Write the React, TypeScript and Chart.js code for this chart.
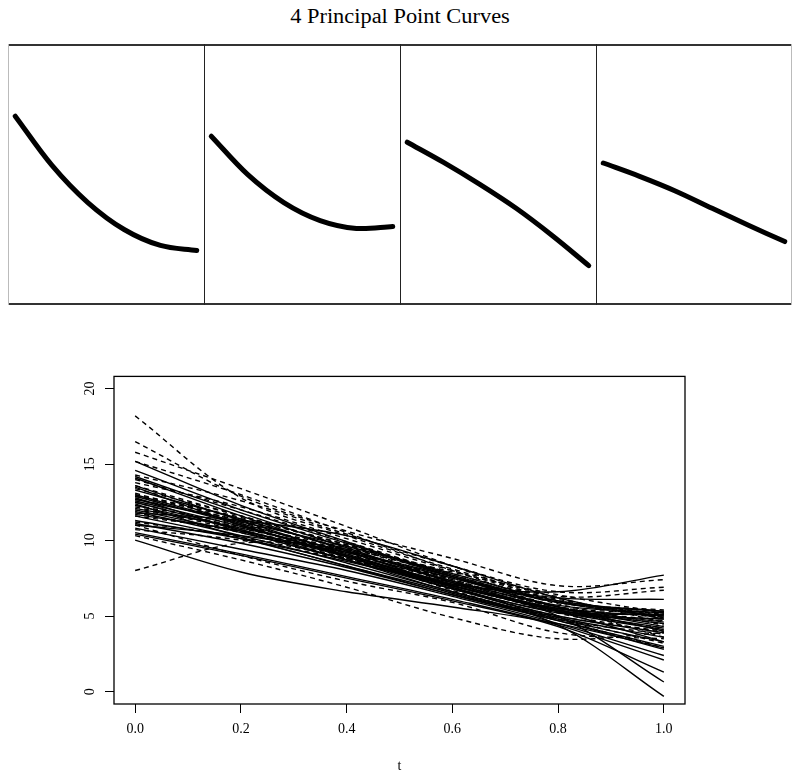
import React, { useEffect, useRef } from 'react';
import { Chart, registerables } from 'chart.js';

Chart.register(...registerables);

const FONT = "'Liberation Serif', 'Times New Roman', serif";

const titleText = '4 Principal Point Curves';
const xLabel = 't';

// common argument grid
const tGrid = [0, 0.2, 0.4, 0.6, 0.8, 1.0];

// principal point curves (top panels)
const principal1 = [14.83, 10.8, 7.68, 5.45, 4.13, 3.71];
const principal2 = [13.17, 10.01, 7.68, 6.19, 5.54, 5.7];
const principal3 = [12.67, 11.0, 9.18, 7.2, 4.93, 2.46];
const principal4 = [10.95, 9.85, 8.62, 7.2, 5.8, 4.45];
const principalCurves = [principal1, principal2, principal3, principal4];

// sample curves (bottom plot), solid group
const solidCurves = [
  [15.2, 12.3, 9.9, 7.6, 5.6, 4.3],
  [14.6, 12.0, 9.8, 7.7, 5.9, 5.0],
  [14.2, 11.8, 9.5, 7.2, 5.3, 4.1],
  [11.8, 11.3, 10.3, 8.3, 6.2, 4.8],
  [12.8, 10.6, 8.7, 7.1, 6.6, 7.7],
  [13.5, 11.0, 9.0, 7.2, 6.2, 6.1],
  [13.0, 11.1, 9.2, 7.3, 5.7, 5.2],
  [12.6, 10.9, 9.0, 7.0, 5.5, 5.0],
  [12.3, 10.7, 8.9, 6.9, 5.2, 4.8],
  [12.0, 10.5, 8.7, 6.8, 5.3, 5.1],
  [11.7, 10.6, 9.0, 7.1, 5.5, 4.6],
  [13.3, 11.4, 9.4, 7.3, 5.4, 4.2],
  [12.9, 11.0, 8.9, 6.8, 5.0, 3.9],
  [12.5, 10.7, 8.7, 6.6, 4.9, 3.6],
  [11.9, 10.3, 8.5, 6.6, 4.8, 3.3],
  [11.6, 10.1, 8.3, 6.4, 4.7, 3.0],
  [11.1, 9.8, 8.2, 6.4, 4.7, 2.8],
  [10.8, 9.4, 8.0, 6.3, 4.5, 2.4],
  [10.5, 9.1, 7.6, 6.1, 4.4, 2.1],
  [10.4, 9.0, 7.5, 6.0, 4.3, 1.3],
  [10.0, 7.9, 6.6, 5.6, 4.5, 2.9],
  [12.4, 10.2, 8.3, 6.5, 4.4, -0.3],
  [13.6, 11.3, 9.1, 7.0, 5.0, 0.65],
  [14.1, 11.6, 9.3, 7.0, 5.3, 3.3],
  [12.1, 10.8, 9.3, 7.6, 5.9, 5.3],
  [12.7, 11.2, 9.6, 7.8, 6.0, 5.3],
  [11.3, 10.1, 8.6, 7.0, 5.4, 4.5],
  [11.0, 10.3, 9.2, 7.5, 5.6, 4.0],
];

// sample curves (bottom plot), dashed group
const dashedCurves = [
  [18.2, 12.8, 10.3, 8.1, 6.2, 4.6],
  [16.5, 12.9, 10.6, 8.8, 7.0, 7.4],
  [15.8, 13.4, 10.9, 8.3, 6.0, 4.9],
  [15.2, 13.0, 10.5, 8.0, 5.9, 5.3],
  [14.3, 12.6, 10.4, 8.3, 6.6, 6.9],
  [13.8, 12.2, 10.1, 8.0, 6.3, 6.7],
  [13.4, 11.6, 9.7, 7.6, 5.9, 5.4],
  [13.0, 11.5, 9.6, 7.4, 5.6, 4.9],
  [12.7, 11.3, 9.4, 7.3, 5.4, 4.5],
  [12.3, 11.0, 9.3, 7.4, 5.6, 5.2],
  [12.0, 10.9, 9.5, 7.7, 5.8, 4.4],
  [11.6, 10.6, 9.1, 7.2, 5.2, 3.9],
  [11.2, 10.2, 8.8, 7.0, 5.3, 4.2],
  [10.7, 10.0, 8.7, 7.1, 5.5, 4.7],
  [8.0, 9.8, 9.4, 7.6, 5.6, 3.6],
  [10.3, 8.7, 6.9, 4.9, 3.5, 3.9],
  [11.0, 9.0, 7.3, 5.9, 3.9, 3.5],
  [12.9, 11.4, 9.3, 6.9, 4.8, 2.9],
  [13.6, 11.6, 9.7, 7.9, 6.4, 5.2],
  [14.0, 12.0, 9.9, 7.8, 6.1, 5.0],
  [12.2, 10.6, 8.9, 6.9, 4.9, 3.2],
  [11.8, 10.5, 8.8, 6.8, 5.0, 4.0],
  [13.1, 11.2, 9.0, 6.7, 4.8, 3.8],
  [12.5, 10.8, 9.2, 7.5, 6.0, 5.1],
];

const xTicks = [0, 0.2, 0.4, 0.6, 0.8, 1.0];
const yTicks = [0, 5, 10, 15, 20];

const X_MIN = -0.04;
const X_MAX = 1.04;
const Y_MIN = -0.8;
const Y_MAX = 20.8;

const toPoints = (vals: number[]) => tGrid.map((t, i) => ({ x: t, y: vals[i] }));

function panelBorderPlugin(index: number) {
  return {
    id: 'panelBorder' + index,
    afterDraw(chart: any) {
      const { ctx, width, height } = chart;
      ctx.save();
      ctx.strokeStyle = '#333';
      ctx.lineWidth = 2;
      ctx.beginPath();
      ctx.moveTo(0, 1);
      ctx.lineTo(width, 1);
      ctx.moveTo(0, height - 1);
      ctx.lineTo(width, height - 1);
      ctx.stroke();
      ctx.lineWidth = 1;
      ctx.strokeStyle = index === 0 ? '#bbb' : '#222';
      ctx.beginPath();
      ctx.moveTo(0.5, 0);
      ctx.lineTo(0.5, height);
      ctx.stroke();
      if (index === 3) {
        ctx.strokeStyle = '#bbb';
        ctx.beginPath();
        ctx.moveTo(width - 0.5, 0);
        ctx.lineTo(width - 0.5, height);
        ctx.stroke();
      }
      ctx.restore();
    },
  };
}

function Panel({ index }: { index: number }) {
  const ref = useRef<HTMLCanvasElement>(null);
  useEffect(() => {
    const chart = new Chart(ref.current as HTMLCanvasElement, {
      type: 'line',
      data: {
        datasets: [
          {
            data: toPoints(principalCurves[index]),
            borderColor: '#000',
            borderWidth: 5,
            borderCapStyle: 'round',
            borderJoinStyle: 'round',
            pointRadius: 0,
            tension: 0.34,
            fill: false,
          } as any,
        ],
      },
      options: {
        responsive: false,
        animation: false,
        events: [],
        layout: { padding: 0 },
        plugins: { legend: { display: false }, tooltip: { enabled: false } },
        scales: {
          x: { type: 'linear', min: X_MIN, max: X_MAX, display: false },
          y: { type: 'linear', min: Y_MIN, max: Y_MAX, display: false },
        },
      },
      plugins: [panelBorderPlugin(index)],
    });
    return () => chart.destroy();
  }, [index]);
  return (
    <canvas
      ref={ref}
      width={196}
      height={261}
      style={{ position: 'absolute', left: 8 + 196 * index, top: 44, width: 196, height: 261 }}
    />
  );
}

const boxPlugin = {
  id: 'boxPlugin',
  afterDraw(chart: any) {
    const { ctx, chartArea } = chart;
    ctx.save();
    ctx.strokeStyle = '#000';
    ctx.lineWidth = 1.3;
    ctx.strokeRect(chartArea.left, chartArea.top, chartArea.right - chartArea.left, chartArea.bottom - chartArea.top);
    ctx.restore();
  },
};

function BottomPlot() {
  const ref = useRef<HTMLCanvasElement>(null);
  useEffect(() => {
    const datasets: any[] = [];
    solidCurves.forEach((c) =>
      datasets.push({
        data: toPoints(c),
        borderColor: '#000',
        borderWidth: 1.4,
        pointRadius: 0,
        tension: 0.34,
        fill: false,
      })
    );
    dashedCurves.forEach((c) =>
      datasets.push({
        data: toPoints(c),
        borderColor: '#000',
        borderWidth: 1.4,
        borderDash: [5, 4],
        pointRadius: 0,
        tension: 0.34,
        fill: false,
      })
    );
    const chart = new Chart(ref.current as HTMLCanvasElement, {
      type: 'line',
      data: { datasets },
      options: {
        responsive: false,
        animation: false,
        events: [],
        layout: { padding: { left: 0, right: 115, top: 16, bottom: 0 } },
        plugins: { legend: { display: false }, tooltip: { enabled: false } },
        scales: {
          x: {
            type: 'linear',
            min: X_MIN,
            max: X_MAX,
            position: 'bottom',
            afterBuildTicks: (s: any) => {
              s.ticks = xTicks.map((v) => ({ value: v }));
            },
            afterFit: (s: any) => {
              s.height = 76;
            },
            grid: { drawOnChartArea: false, drawTicks: true, tickLength: 9, color: '#000', lineWidth: 1 },
            border: { display: false },
            ticks: {
              color: '#000',
              font: { family: FONT, size: 14 },
              padding: 8,
              maxRotation: 0,
              autoSkip: false,
              callback: (v: any) => Number(v).toFixed(1),
            },
            title: {
              display: true,
              text: xLabel,
              color: '#000',
              font: { family: FONT, size: 14 },
              padding: { top: 0, bottom: 5 },
            },
          },
          y: {
            type: 'linear',
            min: Y_MIN,
            max: Y_MAX,
            afterBuildTicks: (s: any) => {
              s.ticks = yTicks.map((v) => ({ value: v }));
            },
            afterFit: (s: any) => {
              s.width = 114;
            },
            grid: { drawOnChartArea: false, drawTicks: true, tickLength: 9, color: '#000', lineWidth: 1 },
            border: { display: false },
            ticks: {
              color: '#000',
              font: { family: FONT, size: 14 },
              padding: 8,
              minRotation: 90,
              maxRotation: 90,
              crossAlign: 'center',
              autoSkip: false,
              callback: (v: any) => String(v),
            },
          },
        },
      },
      plugins: [boxPlugin],
    });
    return () => chart.destroy();
  }, []);
  return (
    <canvas
      ref={ref}
      width={800}
      height={420}
      style={{ position: 'absolute', left: 0, top: 360, width: 800, height: 420 }}
    />
  );
}

export default function App() {
  return (
    <div style={{ position: 'absolute', left: 0, top: 0, width: 800, height: 780, background: '#fff', overflow: 'hidden' }}>
      <div
        style={{
          position: 'absolute',
          left: 0,
          top: 5,
          width: 800,
          textAlign: 'center',
          fontFamily: FONT,
          fontSize: 20,
          color: '#000',
          transform: 'scaleX(1.12)',
          transformOrigin: '400px 0',
        }}
      >
        {titleText}
      </div>
      {[0, 1, 2, 3].map((i) => (
        <Panel key={i} index={i} />
      ))}
      <BottomPlot />
    </div>
  );
}
